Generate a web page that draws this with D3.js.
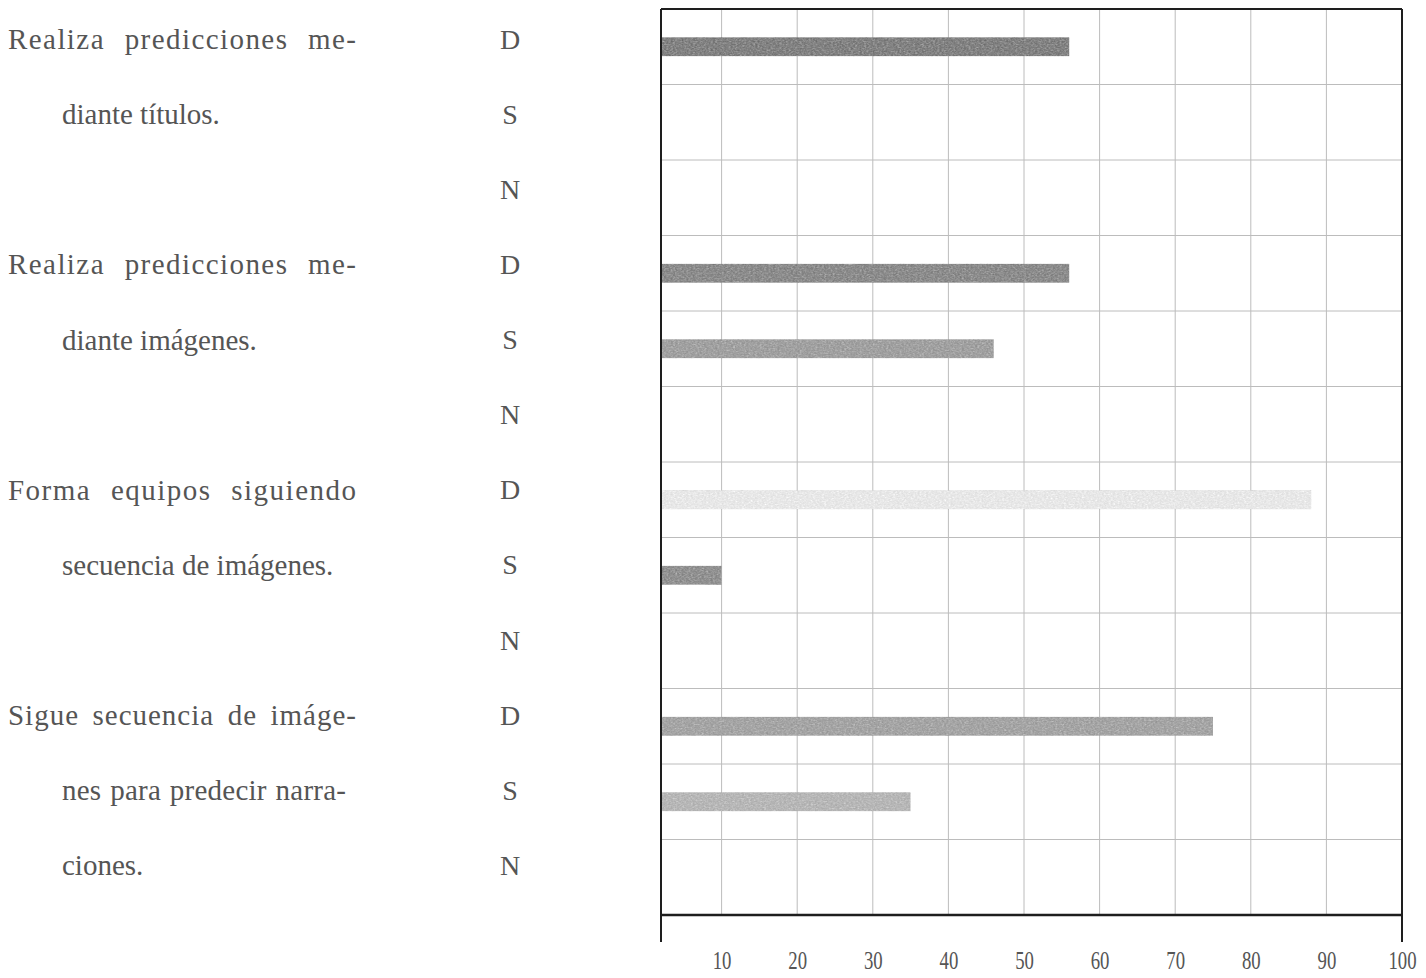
<!DOCTYPE html>
<html>
<head>
<meta charset="utf-8">
<script src="https://cdn.jsdelivr.net/npm/d3@7"></script>
<style>
  html, body { margin: 0; padding: 0; background: #ffffff; }
  svg { display: block; }
</style>
</head>
<body>
<svg id="chart" width="1426" height="978"></svg>
<script>
// ---------------- DATA ----------------
const categoryLines = [
  ["Realiza predicciones me-", "diante títulos."],
  ["Realiza predicciones me-", "diante imágenes."],
  ["Forma equipos siguiendo", "secuencia de imágenes."],
  ["Sigue secuencia de imáge-", "nes para predecir narra-", "ciones."]
];
const responses = ["D", "S", "N"];
const valuesD = [56, 56, 88, 75];
const valuesS = [0, 46, 10, 35];
const valuesN = [0, 0, 0, 0];
const tickValues = [10, 20, 30, 40, 50, 60, 70, 80, 90, 100];

// ---------------- STYLE ----------------
const barShade = {
  "0-D": "#8c8c8c", "1-D": "#959595", "1-S": "#a8a8a8",
  "2-D": "#ececec", "2-S": "#9a9a9a", "3-D": "#acacac", "3-S": "#bdbdbd"
};
const textColor = "#555555";
const serif = "'Liberation Serif', 'Times New Roman', serif";

// ---------------- BUILD ROWS ----------------
const seriesByResp = { D: valuesD, S: valuesS, N: valuesN };
const rows = [];
categoryLines.forEach((lines, ci) => {
  responses.forEach((r, ri) => {
    rows.push({ key: ci + "-" + r, cat: ci, resp: r, idx: ri, value: seriesByResp[r][ci] });
  });
});

const svg = d3.select("#chart");
svg.append("rect").attr("width", 1426).attr("height", 978).attr("fill", "#fff");

const frameLeft = 661, frameTop = 9, frameBottom = 915;
const x = d3.scaleLinear().domain([0, 100]).range([646, 1402]);
const frameRight = x(100);
const y = d3.scaleBand().domain(rows.map(d => d.key)).range([frameTop, frameBottom]).paddingInner(0).paddingOuter(0);
const yLabel = d3.scalePoint().domain(rows.map(d => d.key)).range([39, 865]);

const defs = svg.append("defs");
defs.append("clipPath").attr("id", "plotclip")
  .append("rect").attr("x", frameLeft).attr("y", frameTop)
  .attr("width", frameRight - frameLeft).attr("height", frameBottom - frameTop);

// grain texture for the scanned-looking bars
const f = defs.append("filter").attr("id", "grain")
  .attr("x", "0").attr("y", "0").attr("width", "1").attr("height", "1");
f.append("feTurbulence").attr("type", "fractalNoise").attr("baseFrequency", "0.45 0.7")
  .attr("numOctaves", 2).attr("seed", 7).attr("result", "noise");
f.append("feColorMatrix").attr("in", "noise").attr("type", "saturate").attr("values", 0).attr("result", "gnoise");
f.append("feComposite").attr("in", "SourceGraphic").attr("in2", "gnoise").attr("operator", "arithmetic")
  .attr("k1", 0).attr("k2", 1).attr("k3", 0.5).attr("k4", -0.16).attr("result", "mix");
f.append("feComposite").attr("in", "mix").attr("in2", "SourceGraphic").attr("operator", "in").attr("result", "clipped");
f.append("feGaussianBlur").attr("in", "clipped").attr("stdDeviation", 0.6);

// grid: vertical
const grid = svg.append("g").attr("class", "grid");
grid.selectAll("line.v").data(tickValues.filter(t => t < 100)).join("line")
  .attr("class", "v")
  .attr("x1", d => x(d)).attr("x2", d => x(d))
  .attr("y1", frameTop).attr("y2", frameBottom)
  .attr("stroke", "#bcbcbc").attr("stroke-width", 1);
// grid: horizontal (row boundaries)
grid.selectAll("line.h").data(rows.slice(1)).join("line")
  .attr("class", "h")
  .attr("x1", frameLeft).attr("x2", frameRight)
  .attr("y1", d => y(d.key)).attr("y2", d => y(d.key))
  .attr("stroke", "#bcbcbc").attr("stroke-width", 1);

// bars
const barH = 19;
svg.append("g").attr("clip-path", "url(#plotclip)")
  .selectAll("rect").data(rows.filter(d => d.value > 0)).join("rect")
  .attr("x", x(0))
  .attr("y", d => y(d.key) + y.bandwidth() / 2 - barH / 2)
  .attr("width", d => x(d.value) - x(0))
  .attr("height", barH)
  .attr("fill", d => barShade[d.key] || "#aaa")
  .attr("filter", "url(#grain)");

// frame
const frame = svg.append("g").attr("stroke", "#1e1e1e");
frame.append("line").attr("x1", frameLeft).attr("x2", frameRight).attr("y1", frameTop).attr("y2", frameTop).attr("stroke-width", 2);
frame.append("line").attr("x1", frameLeft).attr("x2", frameLeft).attr("y1", frameTop).attr("y2", 942).attr("stroke-width", 2);
frame.append("line").attr("x1", frameRight).attr("x2", frameRight).attr("y1", frameTop).attr("y2", 942).attr("stroke-width", 2);
frame.append("line").attr("x1", frameLeft).attr("x2", frameRight).attr("y1", frameBottom).attr("y2", frameBottom).attr("stroke-width", 2.5);

// x axis labels
const axis = d3.axisBottom(x).tickValues(tickValues).tickSize(0).tickPadding(0).tickFormat(d3.format("d"));
const ax = svg.append("g").attr("transform", "translate(0,969)").call(axis);
ax.select(".domain").remove();
ax.selectAll("text")
  .attr("y", 0).attr("dy", 0)
  .attr("transform", "scale(0.75,1)")
  .style("font-family", serif).style("font-size", "25px").attr("fill", textColor);

// response letters D/S/N
svg.append("g").selectAll("text").data(rows).join("text")
  .attr("x", 510).attr("y", d => yLabel(d.key)).attr("dy", "0.35em")
  .attr("text-anchor", "middle")
  .style("font-family", serif).style("font-size", "28px").attr("fill", textColor)
  .text(d => d.resp);

// category text lines (justified paragraph: non-final lines stretched to the column)
const catG = svg.append("g");
const justifyRight = 356;
categoryLines.forEach((lines, ci) => {
  lines.forEach((ln, li) => {
    const key = ci + "-" + responses[li];
    const x0 = li === 0 ? 8 : 62;
    const t = catG.append("text")
      .attr("x", x0)
      .attr("y", yLabel(key)).attr("dy", "0.35em")
      .style("font-family", serif).style("font-size", "29px").attr("fill", textColor)
      .text(ln);
    if (li < lines.length - 1) {
      const target = (li === 0 ? justifyRight : 346) - x0;
      const len = t.node().getComputedTextLength();
      const spaces = (ln.match(/ /g) || []).length;
      const gaps = ln.length - 1;
      if (target > len) {
        const extra = target - len;
        // share stretch between letters and word gaps
        const ls = (extra * 0.6) / gaps;
        const ws = spaces > 0 ? (extra * 0.4) / spaces : 0;
        t.style("letter-spacing", ls + "px").style("word-spacing", ws + "px");
      }
    }
  });
});
</script>
</body>
</html>
